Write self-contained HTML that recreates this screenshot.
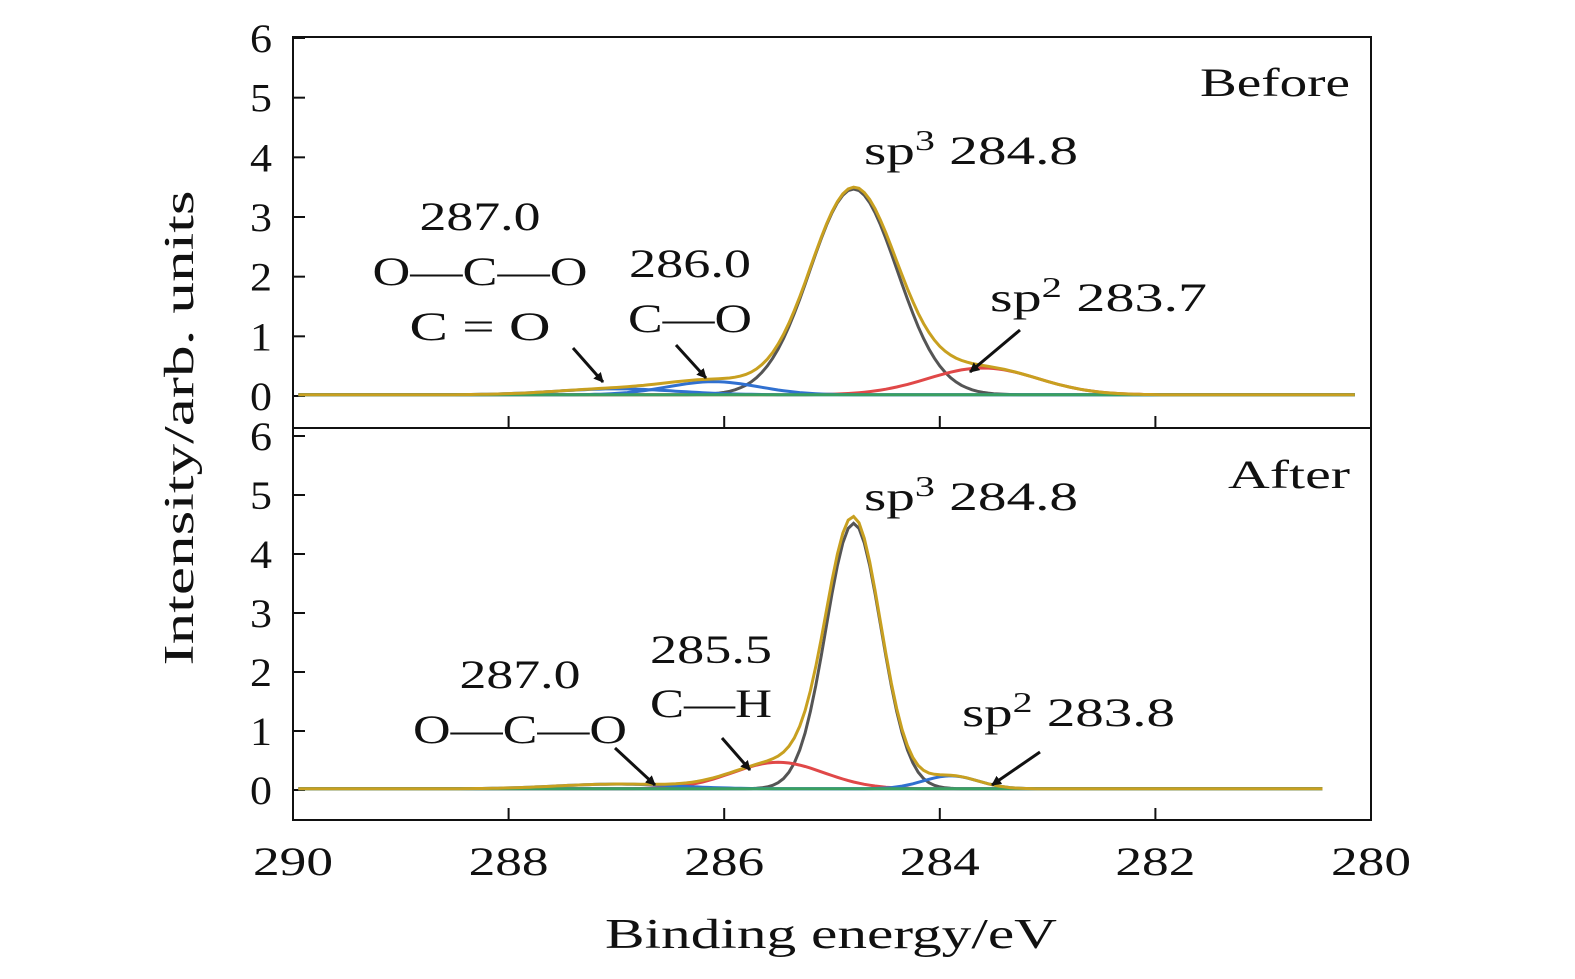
<!DOCTYPE html>
<html><head><meta charset="utf-8"><style>
body{margin:0;background:#fff}
svg text{font-family:"Liberation Serif",serif;fill:#111}
</style></head><body>
<svg width="1575" height="974" viewBox="0 0 1575 974">
<defs><marker id="ah" markerWidth="10" markerHeight="10" refX="9" refY="5" orient="auto" markerUnits="userSpaceOnUse"><path d="M0,0 L10,5 L0,10 z" fill="#111"/></marker></defs>
<g id="root"></g>
</svg>
<script>
// x ticks
const xTicks=[290,288,286,284,282,280];
const yTicks=[0,1,2,3,4,5,6];
// peak components: centers (eV), heights, FWHM (eV)
const beforeCenters=[284.8,283.6,286.1,287.0];
const beforeHeights=[3.45,0.45,0.22,0.1];
const beforeFwhm=[0.95,1.2,1.0,1.3];
const afterCenters=[284.8,285.5,283.9,287.0];
const afterHeights=[4.5,0.45,0.22,0.08];
const afterFwhm=[0.6,1.0,0.6,1.3];
const beforeBaseline=0.02, afterBaseline=0.02;
const compColors=['#555555','#e04848','#3070d0','#3070d0'];

const NS='http://www.w3.org/2000/svg';
const root=document.getElementById('root');
const X0=293,X1=1371;
const xs=v=>X0+(290-v)/(290-280)*(X1-X0);
function mk(t,a,p){const e=document.createElementNS(NS,t);for(const k in a)e.setAttribute(k,a[k]);(p||root).appendChild(e);return e;}
function txt(s,x,y,size,anchor,p,len){const a={x:x,y:y,'font-size':size,'text-anchor':anchor||'middle'};if(len){a.textLength=len;a.lengthAdjust='spacingAndGlyphs';}const e=mk('text',a,p);e.textContent=s;return e;}
const panels=[
 {name:'before',top:37,bot:428,y0:396,y6:38,c:beforeCenters,h:beforeHeights,w:beforeFwhm,b:beforeBaseline,xEnd:280.1,label:'Before',lw:150,ly:96},
 {name:'after',top:428,bot:820,y0:790,y6:436,c:afterCenters,h:afterHeights,w:afterFwhm,b:afterBaseline,xEnd:280.4,label:'After',lw:122,ly:488}];
function g(x,c,h,w){const s=w/2.3548;return h*Math.exp(-((x-c)**2)/(2*s*s));}
panels.forEach(P=>{
 const ys=v=>P.y0-(v/6)*(P.y0-P.y6);
 const grp=mk('g',{});
 
 
 const fr=mk('rect',{x:X0,y:P.top,width:X1-X0,height:P.bot-P.top,fill:'none',stroke:'#111','stroke-width':2},grp);
 
 
 yTicks.forEach(t=>{const y=ys(t);
  mk('line',{x1:X0,y1:y,x2:X0+12,y2:y,stroke:'#111','stroke-width':2},grp);
  const l=txt(String(t),272,y+14,40,'end',grp,22);
  
  });
 xTicks.forEach(t=>{const x=xs(t);
  mk('line',{x1:x,y1:P.bot,x2:x,y2:P.bot-12,stroke:'#111','stroke-width':2},grp);});
 const series=[];
 P.c.forEach((c,i)=>series.push({col:compColors[i],f:x=>g(x,c,P.h[i],P.w[i])+P.b,name:'component-'+c}));
 series.push({col:'#3aa060',f:x=>P.b,name:'baseline'});
 series.push({col:'#c8a020',f:x=>P.c.reduce((s,c,i)=>s+g(x,c,P.h[i],P.w[i]),0)+P.b,name:'envelope'});
 series.forEach(S=>{let pts=[];for(let x=289.95;x>=P.xEnd;x-=0.05)pts.push(xs(x).toFixed(1)+','+ys(S.f(x)).toFixed(1));
  const pl=mk('polyline',{points:pts.join(' '),fill:'none',stroke:S.col,'stroke-width':3},grp);
  
  });
 const lb=txt(P.label,1350,P.ly,40,'end',grp,P.lw);
 
 
});
xTicks.forEach(t=>{const l=txt(String(t),xs(t),875,40,'middle',null,80);
 
 });
const xt=txt('Binding energy/eV',831,948,42,'middle',null,452);


const yt=txt('Intensity/arb. units',0,0,42,'middle',null,475);
yt.setAttribute('transform','translate(193,428) rotate(-90)');


// annotations
const ann=[
 ['287.0',480,230,121],['O—C—O',480,285,215],['C = O',480,340,141],['286.0',690,277,122],['C—O',690,332,124],
 ['285.5',711,663,122],['C—H',711,717,122],['287.0',520,688,121],['O—C—O',520,743,214]];
ann.forEach(a=>{const l=txt(a[0],a[1],a[2],40,'middle',null,a[3]);
 
 });
function sup(base,s,x,y,len){const t=mk('text',{x:x,y:y,'font-size':40,'text-anchor':'start',textLength:len,lengthAdjust:'spacingAndGlyphs'});
 
 
 const a=mk('tspan',{},t);a.textContent='sp';
 const b=mk('tspan',{dy:-14,'font-size':28},t);b.textContent=s;
 const c=mk('tspan',{dy:14},t);c.textContent=' '+base;}
sup('284.8','3',864,164,214);sup('283.7','2',990,311,217);sup('284.8','3',864,510,214);sup('283.8','2',962,726,213);
const arrows=[[573,348,603,382],[676,345,706,378],[1020,330,970,372],[615,748,655,785],[722,738,750,770],[1040,752,992,785]];
arrows.forEach(a=>{const l=mk('line',{x1:a[0],y1:a[1],x2:a[2],y2:a[3],stroke:'#111','stroke-width':3,'marker-end':'url(#ah)'});
 
 });
</script>
</body></html>
